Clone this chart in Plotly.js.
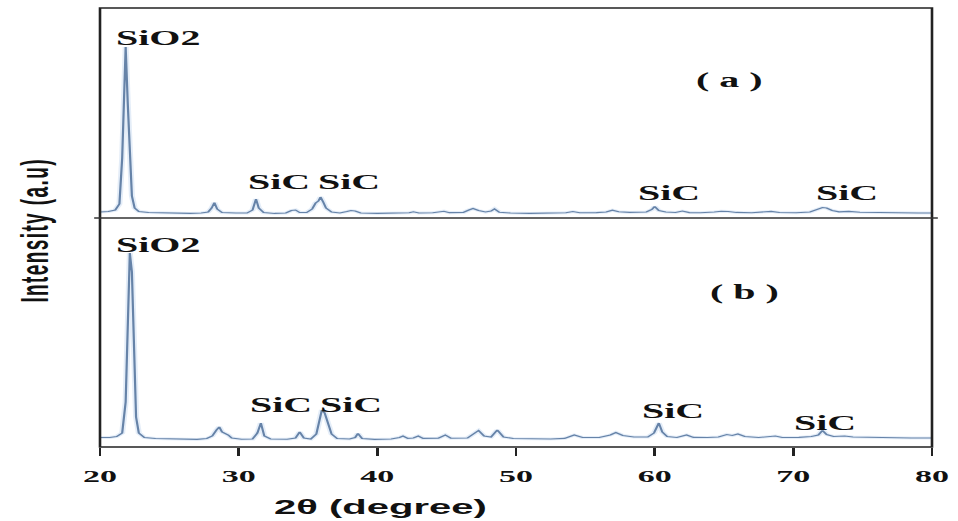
<!DOCTYPE html>
<html>
<head>
<meta charset="utf-8">
<script src="https://cdn.plot.ly/plotly-3.0.1.min.js"></script>
<style>
  html, body { margin:0; padding:0; background:#fff; overflow:hidden; }
  #chart { width:479px; height:521px; transform:scaleX(2); transform-origin:0 0; }
  #chart .annotation[data-index="0"] text { letter-spacing:1.4px; }
</style>
</head>
<body>
<div id="chart"></div>
<script>
// ---- pattern (a) : 2θ (degree) and intensity (a.u.) ----
const twoThetaA = [20.0,20.6,21.1,21.4,21.6,21.75,21.85,22.0,22.15,22.3,22.5,22.8,23.5,24.5,25.5,26.5,27.3,27.8,28.05,28.25,28.45,28.8,29.8,30.6,31.0,31.25,31.45,31.8,32.6,33.4,33.8,34.1,34.4,34.9,35.3,35.55,35.75,35.9,36.1,36.3,36.7,37.3,37.8,38.1,38.4,38.8,40.0,41.2,42.3,42.6,43.0,44.0,44.5,44.8,45.2,46.2,46.6,46.9,47.3,47.8,48.2,48.45,48.8,49.6,51.0,52.5,53.6,54.1,54.6,55.8,56.5,56.95,57.4,58.2,59.4,59.8,60.0,60.3,60.8,61.5,62.0,62.5,63.3,64.3,64.8,65.3,65.9,67.0,67.8,68.4,69.0,70.2,71.2,71.8,72.1,72.4,72.8,73.3,74.0,74.8,76.0,77.5,79.0,80.0];
const intensityA = [6,6.5,8,14,60,150,171,115,55,22,10,6.5,5.5,5,4.8,4.6,5,6,10,15.5,9,5.5,5,5,8,19,10,5.5,4.6,5,7.5,8,5.5,5.5,9,15,17,21,16,10,6,5,6.5,7.5,7,5,4.6,4.8,5.2,6.2,5,5.2,6,6.8,5.4,5.6,8,9.5,7.5,6,7,9.2,5.8,5,4.6,4.6,5.2,6.5,5.2,5.4,6,7.8,6.2,5.6,6,8.5,11.5,7.5,6,5.5,7,5.4,5.2,6,6.8,6.5,5.6,5.3,5.8,6.6,5.5,5.2,6,8.5,10.5,10,7.5,6.2,6.6,5.8,5.4,5.2,5.0,5.0];

// ---- pattern (b) ----
const twoThetaB = [20.0,20.7,21.2,21.6,21.85,22.0,22.15,22.3,22.45,22.6,22.8,23.2,24.0,25.0,26.0,27.0,27.7,28.1,28.4,28.6,28.8,29.0,29.25,29.5,30.2,31.0,31.35,31.6,31.85,32.3,33.5,34.1,34.4,34.7,35.2,35.6,35.85,36.0,36.2,36.4,36.7,37.1,38.0,38.4,38.6,38.9,39.8,41.0,41.6,41.85,42.2,42.6,42.95,43.3,44.4,44.9,45.3,46.5,47.0,47.3,47.7,48.2,48.65,49.1,49.8,51.0,52.5,53.5,54.2,54.8,56.0,56.8,57.2,57.7,58.5,59.5,59.95,60.3,60.55,60.9,61.6,62.3,62.8,63.8,64.6,65.2,65.6,66.0,66.5,67.5,68.3,68.7,69.2,70.4,71.3,71.8,72.1,72.4,72.9,73.7,74.3,75.5,77.0,78.5,80.0];
const intensityB = [9.5,9.5,10.5,14,45,140,194,175,85,30,14,9.5,8.5,8,7.5,7.6,8.5,11,17,20,15,14,12,9,7.8,8,14,24,11,8,7.8,9,15,9,8,13,30,37,34,24,13,8.5,8,9.5,13.5,8.5,7.6,8,9.5,11,8.6,9,11,8.6,8.8,12,8.8,9,13,16.5,11,10,17,10,8.5,8,8,8.6,12,9.5,9.5,12,14.5,11.5,10,10,14,24,15,10.5,9.5,12,9.6,9.5,10,12.5,11.5,13,10.5,9.5,10,11,9.5,9.6,10.5,12,16.5,12.5,10.5,11,10,9.5,9,9,9];

// ---- axis ticks ----
const tickVals = [20,30,40,50,60,70,80];
const tickText = ["20","30","40","50","60","70","80"];

// ---- peak / panel labels ----
const labelText  = ["SiO2","SiC","SiC","SiC","SiC","( a )","SiO2","SiC","SiC","SiC","SiC","( b )"];
const labelTheta = [24.2,32.9,37.95,61.1,73.8,65.3,24.2,33.1,38.1,61.3,72.35,66.4];
const labelInt   = [180,36,36,25,25,138,202,42,42,36,24,155];
const labelPanel = ["y2","y2","y2","y2","y2","y2","y","y","y","y","y","y"];

const lineCol = '#6683a8';
const glowCol = 'rgba(120,165,220,0.2)';

const traces = [
  {x:twoThetaA, y:intensityA, xaxis:'x', yaxis:'y2', mode:'lines', line:{color:glowCol, width:3}, hoverinfo:'skip'},
  {x:twoThetaB, y:intensityB, xaxis:'x', yaxis:'y',  mode:'lines', line:{color:glowCol, width:3}, hoverinfo:'skip'},
  {x:twoThetaA, y:intensityA, xaxis:'x', yaxis:'y2', mode:'lines', line:{color:lineCol, width:1.1}, name:'(a)'},
  {x:twoThetaB, y:intensityB, xaxis:'x', yaxis:'y',  mode:'lines', line:{color:lineCol, width:1.1}, name:'(b)'}
];

const split = 0.5216;

const annotations = [
  {text:'Intensity (a.u)', xref:'paper', yref:'paper', x:-0.0793, y:0.494, textangle:-90,
   showarrow:false, xanchor:'center', yanchor:'middle',
   font:{family:'Liberation Sans, Arial, sans-serif', size:19, weight:'bold', color:'#111'}},
  {text:'2θ (degree)', xref:'paper', yref:'paper', x:0.3377, y:-0.1367,
   showarrow:false, xanchor:'center', yanchor:'middle',
   font:{family:'Liberation Sans, Arial, sans-serif', size:20, weight:'bold', color:'#111'}}
];
for (let i = 0; i < labelText.length; i++) {
  annotations.push({
    text: labelText[i], xref:'x', yref: labelPanel[i], x: labelTheta[i], y: labelInt[i],
    showarrow:false, xanchor:'center', yanchor:'middle',
    font:{family:'Liberation Serif, Times New Roman, serif', size:20, weight:'bold', color:'#111'}
  });
}

const layout = {
  width:479, height:521,
  margin:{l:50, r:13, t:8, b:74, pad:0},
  paper_bgcolor:'#fff', plot_bgcolor:'#fff',
  showlegend:false,
  xaxis:{range:[20,80], anchor:'y', showgrid:false, zeroline:false, showline:false,
         ticks:'outside', ticklen:8, tickwidth:1.3, tickcolor:'#222',
         tickmode:'array', tickvals:tickVals, ticktext:tickText, ticklabelstandoff:6,
         tickfont:{family:'Liberation Serif, Times New Roman, serif', size:17, weight:'bold', color:'#111'}},
  yaxis:{domain:[0, split], range:[0,229], visible:false, fixedrange:true},
  yaxis2:{domain:[split, 1], range:[0,210], anchor:'x', visible:false, fixedrange:true},
  shapes:[
    {type:'rect', xref:'paper', yref:'paper', x0:0, x1:1, y0:0, y1:1, line:{color:'#222', width:1.3}, fillcolor:'rgba(0,0,0,0)', layer:'above'},
    {type:'line', xref:'paper', yref:'paper', x0:-0.007, x1:1.007, y0:split, y1:split, line:{color:'#333', width:1.3}, layer:'above'}
  ],
  annotations:annotations
};

Plotly.newPlot('chart', traces, layout, {displayModeBar:false, staticPlot:true});
</script>
</body>
</html>
